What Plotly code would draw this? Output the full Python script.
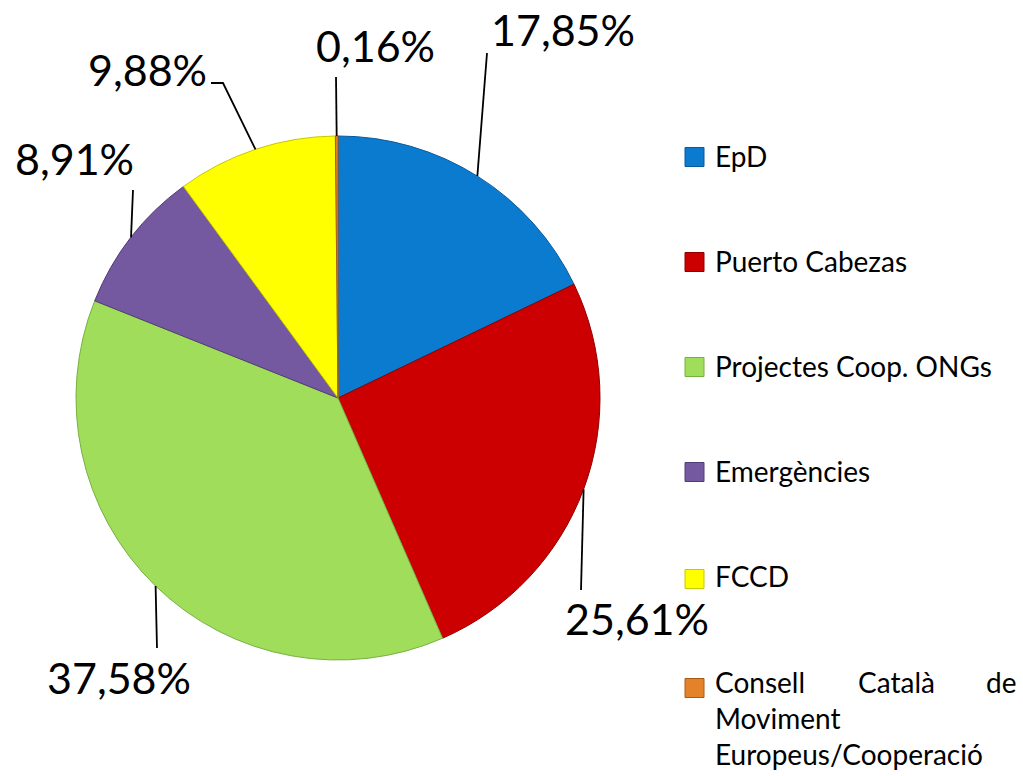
import math
import plotly.graph_objects as go

# ---- data ----
categories = ["EpD", "Puerto Cabezas", "Projectes Coop. ONGs", "Emergències", "FCCD",
              "Consell Català de Moviment Europeus/Cooperació"]
values = [17.85, 25.61, 37.58, 8.91, 9.88, 0.16]
value_labels = ["17,85%", "25,61%", "37,58%", "8,91%", "9,88%", "0,16%"]
colors = ["#0B7BD0", "#CC0000", "#A0DD5A", "#7458A0", "#FFFF00", "#E4822A"]
edge_colors = ["#075A9C", "#8E0000", "#78B040", "#523C78", "#C8C800", "#A85A18"]

# ---- layout constants (pixels) ----
W, H = 1023, 776
CX, CY, R = 338, 398, 262
LABEL_FONT = "Lato"
LABEL_SIZE = 43
LEG_SIZE = 28

# label text centres and leader-line path points (after the point on the rim)
label_pos = [(563, 30), (637, 618), (119, 677), (74, 159), (147, 69), (375, 45)]
leader_pts = [[(487, 53)], [(581, 590)], [(157, 648)], [(133, 190)],
              [(223, 83), (211, 83)], [(336, 77)]]

legend_rows = [156, 261, 366, 471, 576, 682]
square_rows = [157, 262, 367, 472, 579, 688]


def px(x):
    return x / W


def py(y):
    return 1 - y / H


fig = go.Figure()
fig.add_trace(go.Pie(
    labels=categories, values=values, sort=False, direction="clockwise", rotation=0,
    marker=dict(colors=colors, line=dict(color=edge_colors, width=1)),
    textinfo="none", hoverinfo="label+percent", showlegend=False,
    domain=dict(x=[px(CX - R), px(CX + R)], y=[py(CY + R), py(CY - R)]),
))

shapes = []
annotations = []
total = sum(values)
cum = 0.0
for i, v in enumerate(values):
    mid = (cum + v / 2) / total * 2 * math.pi
    cum += v
    sx = CX + R * math.sin(mid)
    sy = CY - R * math.cos(mid)
    pts = [(sx, sy)] + leader_pts[i]
    path = "M " + " L ".join(f"{px(x):.5f},{py(y):.5f}" for x, y in pts)
    shapes.append(dict(type="path", xref="paper", yref="paper", path=path,
                       line=dict(color="black", width=1.8)))
    lx, ly = label_pos[i]
    annotations.append(dict(x=px(lx), y=py(ly), xref="paper", yref="paper",
                            text=value_labels[i], showarrow=False,
                            xanchor="center", yanchor="middle",
                            font=dict(family=LABEL_FONT, size=LABEL_SIZE, color="black")))

# ---- manual legend ----
SQ = 19
SQX = 685
TX = 713
legend_text = ["EpD", "Puerto Cabezas", "Projectes Coop. ONGs", "Emergències", "FCCD"]
for i, row in enumerate(legend_rows):
    srow = square_rows[i]
    shapes.append(dict(type="rect", xref="paper", yref="paper",
                       x0=px(SQX), x1=px(SQX + SQ), y0=py(srow - SQ / 2), y1=py(srow + SQ / 2),
                       fillcolor=colors[i], line=dict(color=edge_colors[i], width=1)))
    if i < len(legend_text):
        annotations.append(dict(x=px(TX), y=py(row), xref="paper", yref="paper",
                                text=legend_text[i], showarrow=False,
                                xanchor="left", yanchor="middle",
                                font=dict(family=LABEL_FONT, size=LEG_SIZE, color="black")))

# justified multi-line last legend entry
row = legend_rows[-1]
for word, x, anchor in [("Consell", TX, "left"), ("Català", 896, "center"), ("de", 1018, "right")]:
    annotations.append(dict(x=px(x), y=py(row), xref="paper", yref="paper", text=word,
                            showarrow=False, xanchor=anchor, yanchor="middle",
                            font=dict(family=LABEL_FONT, size=LEG_SIZE, color="black")))
for k, word in enumerate(["Moviment", "Europeus/Cooperació"]):
    annotations.append(dict(x=px(TX), y=py(row + 36 * (k + 1)), xref="paper", yref="paper",
                            text=word, showarrow=False, xanchor="left", yanchor="middle",
                            font=dict(family=LABEL_FONT, size=LEG_SIZE, color="black")))

fig.update_layout(
    width=W, height=H, margin=dict(l=0, r=0, t=0, b=0),
    paper_bgcolor="white", plot_bgcolor="white",
    shapes=shapes, annotations=annotations, showlegend=False,
)
fig.write_html("out.html", config={"displayModeBar": False},
               post_script="document.body.style.margin='0';document.body.style.overflow='hidden';")
